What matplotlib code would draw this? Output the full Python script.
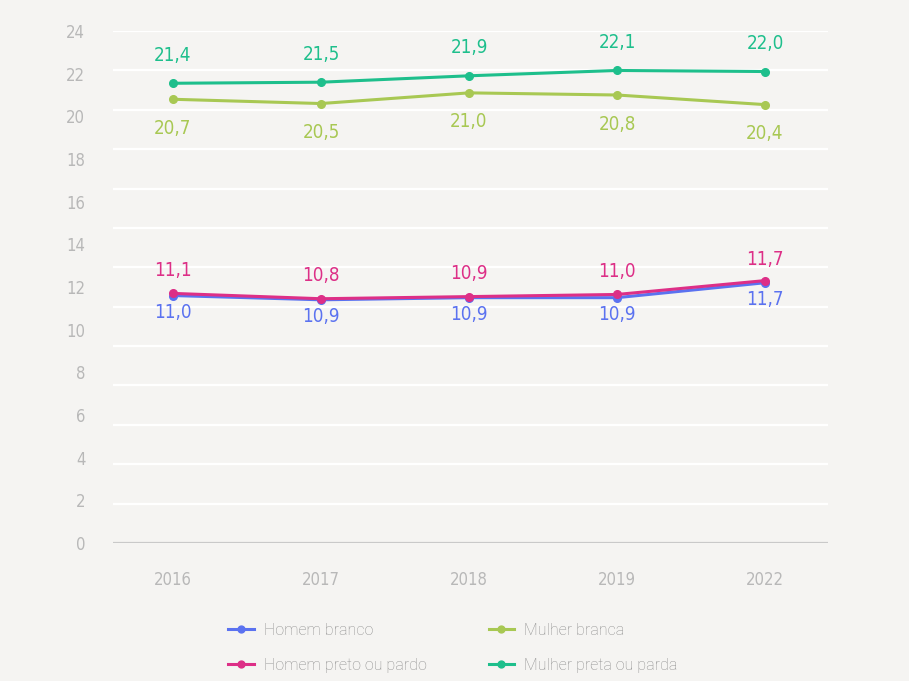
import matplotlib
matplotlib.use("Agg")
import matplotlib.pyplot as plt
import numpy as np
from matplotlib import font_manager
from matplotlib.font_manager import FontProperties

years = ["2016", "2017", "2018", "2019", "2022"]

series_names = ["Homem branco", "Homem preto ou pardo", "Mulher branca", "Mulher preta ou parda"]

# drawn positions
homem_branco = [11.6, 11.4, 11.5, 11.5, 12.2]
homem_preto = [11.7, 11.45, 11.55, 11.65, 12.3]
mulher_branca = [20.8, 20.6, 21.1, 21.0, 20.55]
mulher_preta = [21.55, 21.6, 21.9, 22.15, 22.1]

# printed labels
lab_homem_branco = ["11,0", "10,9", "10,9", "10,9", "11,7"]
lab_homem_preto = ["11,1", "10,8", "10,9", "11,0", "11,7"]
lab_mulher_branca = ["20,7", "20,5", "21,0", "20,8", "20,4"]
lab_mulher_preta = ["21,4", "21,5", "21,9", "22,1", "22,0"]

yticks = list(range(0, 25, 2))

colors = {
    "Homem branco": "#5b72f0",
    "Homem preto ou pardo": "#dd2f87",
    "Mulher branca": "#a8c853",
    "Mulher preta ou parda": "#1ebf8c",
}

# find a condensed / narrow font file if any
cand = None
for f in font_manager.fontManager.ttflist:
    n = (f.name + " " + f.fname).lower()
    if ("condensed" in n or "narrow" in n or str(f.stretch) in ("condensed", "semi-condensed")) \
            and "bold" not in f.fname.lower() and "oblique" not in f.fname.lower() \
            and "italic" not in f.fname.lower() and f.weight in (400, "normal", "regular"):
        cand = f.fname
        break
if cand:
    def fp(size, weight="normal"):
        return FontProperties(fname=cand, size=size)
else:
    def fp(size, weight="normal"):
        return FontProperties(family="DejaVu Sans", stretch="condensed", size=size)

bg = "#f5f4f2"
fig = plt.figure(figsize=(9.09, 6.81), dpi=100, facecolor=bg)
ax = fig.add_axes([113 / 909, 1 - 543 / 681, (828 - 113) / 909, (543 - 31) / 681])
ax.set_facecolor(bg)

x = np.arange(len(years))
ax.set_xlim(-0.405, 4.426)
ax.set_ylim(0, 24)

# gridlines (evenly spaced, as in the reference)
for g in np.linspace(0, 24, 14)[1:]:
    ax.axhline(g, color="white", lw=1.6, zorder=1)
ax.axhline(0, color="#c9c9c9", lw=1.6, zorder=2)

for s in ax.spines.values():
    s.set_visible(False)

ax.set_xticks(x)
ax.set_xticklabels(years, color="#b8b8b8")
for t in ax.get_xticklabels():
    t.set_fontproperties(fp(12))
ax.set_yticks(yticks)
ax.set_yticklabels([str(v) for v in yticks], color="#b8b8b8")
for t in ax.get_yticklabels():
    t.set_fontproperties(fp(12))
ax.tick_params(axis="both", length=0)
ax.tick_params(axis="x", pad=20)
ax.tick_params(axis="y", pad=20)

data = [
    ("Homem branco", homem_branco, lab_homem_branco, -17),
    ("Mulher branca", mulher_branca, lab_mulher_branca, -29),
    ("Homem preto ou pardo", homem_preto, lab_homem_preto, 23),
    ("Mulher preta ou parda", mulher_preta, lab_mulher_preta, 28),
]
handles = {}
for name, vals, labs, off in data:
    c = colors[name]
    (h,) = ax.plot(x, vals, color=c, lw=2.2, marker="o", ms=5.5, zorder=5, label=name)
    handles[name] = h
    for xi, v, t in zip(x, vals, labs):
        o = off
        if name == "Homem preto ou pardo" and xi == 4:
            o = 21
        ax.annotate(t, (xi, v), xytext=(0, o), textcoords="offset pixels",
                    ha="center", va="center", fontproperties=fp(13.5),
                    color=c, zorder=6, annotation_clip=False)

order = ["Homem branco", "Homem preto ou pardo", "Mulher branca", "Mulher preta ou parda"]
leg = fig.legend([handles[n] for n in order], order, loc="center left",
                 bbox_to_anchor=(214 / 909, 1 - 648 / 681), ncol=2, frameon=False,
                 prop={"family": "Roboto", "size": 11.5, "weight": "light"},
                 handlelength=1.6, handletextpad=0.6, columnspacing=3.9, labelspacing=1.25,
                 markerscale=0.9)
for t in leg.get_texts():
    t.set_color("#8e8e8e")

fig.savefig("out.png", dpi=100, facecolor=bg)
